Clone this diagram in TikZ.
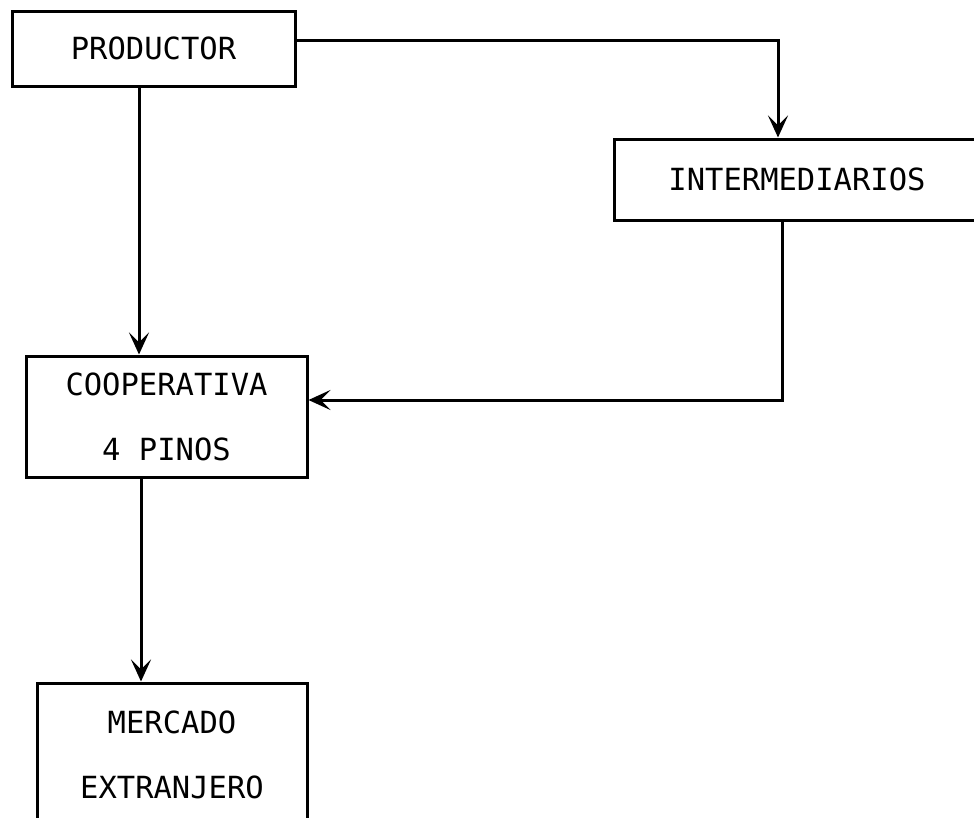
\documentclass[tikz,border=0pt]{standalone}
\usepackage{fontspec}
\setmonofont{DejaVu Sans Mono}
\usetikzlibrary{arrows.meta}
\begin{document}
\begin{tikzpicture}[x=1pt,y=-1pt,
  box/.style={draw,line width=3pt,inner sep=0pt,align=center,
    font=\ttfamily\fontsize{30.5}{65}\selectfont},
  conn/.style={line width=3pt,-{Stealth[length=22pt,width=20pt,inset=10pt]}}]
\useasboundingbox (0,0) rectangle (974,817);
\clip (0,0) rectangle (974,817);
\node[box,minimum width=283pt,minimum height=75pt] (prod) at (153.5,48.5) {PRODUCTOR};
\node[box,minimum width=366pt,minimum height=81pt] (inter) at (797,179.5) {INTERMEDIARIOS};
\node[box,minimum width=281pt,minimum height=121pt] (coop) at (166.5,416.5) {COOPERATIVA\\4 PINOS};
\node[box,minimum width=270pt,minimum height=143pt] (merc) at (172,754.5) {MERCADO\\EXTRANJERO};
\coordinate (c1) at (778,40);
\coordinate (c2) at (782,400);
\draw[conn] (prod.east |- c1) -- (c1) -- (c1 |- inter.north);
\draw[conn] (prod.south -| 139,0) -- (coop.north -| 139,0);
\draw[conn] (inter.south -| c2) -- (c2) -- (coop.east |- c2);
\draw[conn] (coop.south -| 141,0) -- (merc.north -| 141,0);
\end{tikzpicture}
\end{document}
